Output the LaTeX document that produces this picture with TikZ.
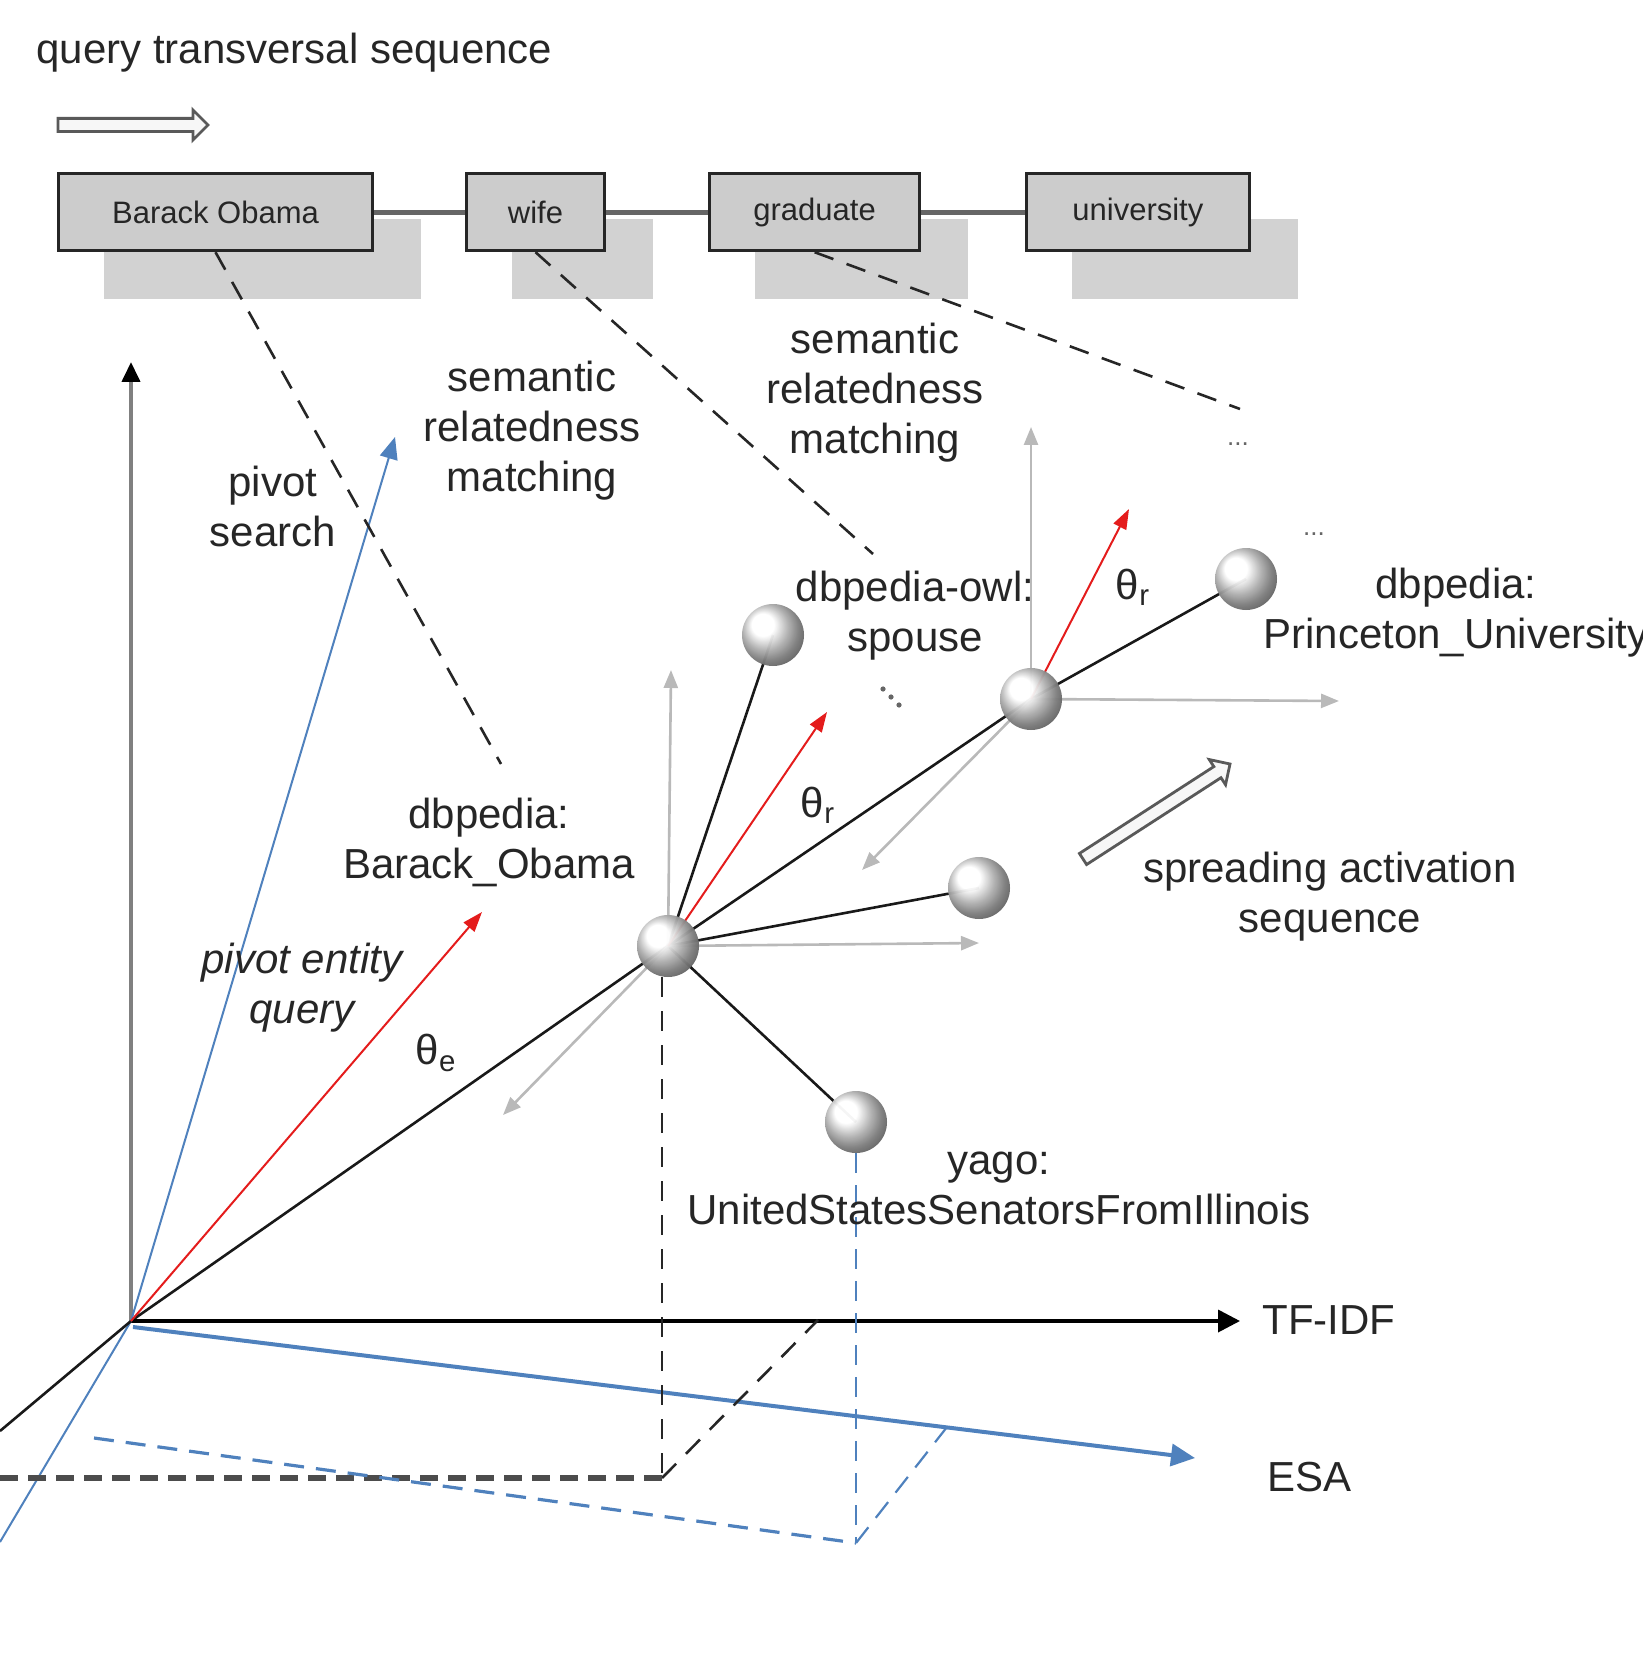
\documentclass[tikz,border=0pt]{standalone}
\usepackage{fontspec}
\setmainfont{Liberation Sans}
\usetikzlibrary{arrows.meta,calc}
\definecolor{axblue}{RGB}{79,129,189}
\definecolor{vecred}{RGB}{228,28,28}
\pgfdeclarelayer{back}
\pgfdeclarelayer{mid}
\pgfsetlayers{back,mid,main}

% hollow block arrow from #1 to #2
\newcommand\hollowarrow[3]{%
  \coordinate (ha-h) at ($(#2)!7.5pt!(#1)$);
  \filldraw[#3]
    ($(#1)!3.3pt!90:(#2)$) -- ($(ha-h)!3.3pt!90:(#2)$) -- ($(ha-h)!7.5pt!90:(#2)$)
    -- (#2) -- ($(ha-h)!7.5pt!-90:(#2)$) -- ($(ha-h)!3.3pt!-90:(#2)$)
    -- ($(#1)!3.3pt!-90:(#2)$) -- cycle;}

\begin{document}
\begin{tikzpicture}[x=0.5pt,y=-0.5pt,
  lbl/.style={font=\fontsize{21}{25}\selectfont, align=center, text=black!85, inner sep=0pt},
  qbox/.style={draw=black!85, line width=1.5pt, fill=gray!40, minimum height=38.4pt,
    inner sep=0pt, text=black!85, font=\fontsize{15.5}{18}\selectfont},
  boxshadow/.style={fill=gray!35},
  ball/.style={circle, minimum size=31pt, inner sep=0pt, shading=ball, ball color=white, opacity=0.96},
  link/.style={draw=black!90, line width=1.3pt},
  gaxis/.style={draw=gray!55, line width=1.3pt, -{Triangle[length=9pt,width=7pt]}},
  redvec/.style={draw=vecred, line width=1pt, -{Triangle[length=10pt,width=7pt]}},
  projdash/.style={draw=black!85, line width=1.3pt, dash pattern=on 10pt off 7pt},
  bluedash/.style={draw=axblue, line width=1.1pt, dash pattern=on 10pt off 6pt},
  dots/.style={font=\fontsize{13}{15}\selectfont, text=black!60, inner sep=0pt},
  hollow/.style={draw=black!65, fill=gray!6, line width=1.4pt, line join=miter}]
\useasboundingbox (0,0) rectangle (1642,1673);

% ---- query sequence at the top ----
\node[lbl, anchor=west] (title) at (36,53) {query transversal sequence};
\coordinate (qa) at (58,125);
\coordinate (qb) at (208,125);
\hollowarrow{qa}{qb}{hollow}

\node[qbox, minimum width=156.8pt] (b1) at (215.5,212.3) {Barack Obama};
\node[qbox, minimum width=69.4pt]  (b2) at (535.5,212.3) {wife};
\node[qbox, minimum width=105.1pt] (b3) at (814.6,212.3) {graduate};
\node[qbox, minimum width=111.5pt] (b4) at (1137.9,212.3) {university};

\begin{pgfonlayer}{back}
  \foreach \b in {b1,b2,b3,b4}
    \fill[boxshadow] ([shift={(47,47)}]\b.south west) rectangle ([shift={(47,47)}]\b.north east);
\end{pgfonlayer}
\draw[draw=black!60, line width=2.5pt] (b1.east) -- (b2.west);
\draw[draw=black!60, line width=2.5pt] (b2.east) -- (b3.west);
\draw[draw=black!60, line width=2.5pt] (b3.east) -- (b4.west);

% ---- coordinate system ----
\coordinate (O) at (131,1321);
\coordinate (yend) at (131,362);
\coordinate (xend) at (1240,1321);
\coordinate (esaend) at (1195,1458);
\coordinate (pivend) at (395,437);
\coordinate (qend) at (482,912);
\coordinate (llb) at (0,1431);
\coordinate (llblue) at (0,1542);

\draw[draw=gray!100, line width=2pt, -{Triangle[length=10pt,width=9pt,color=black]}] (O) -- (yend);
\draw[draw=black, line width=1.8pt, -{Triangle[length=11pt,width=11pt]}] (O) -- (xend);
\draw[draw=axblue, line width=2pt, -{Triangle[length=12pt,width=11pt]}] ([shift={(2,6)}]O) -- (esaend);
\draw[draw=axblue, line width=1pt, -{Triangle[length=11pt,width=9pt]}] (O) -- (pivend);
\draw[draw=axblue, line width=1pt] (O) -- (llblue);
\draw[link] (O) -- (llb);
\draw[redvec] (O) -- (qend);

% ---- entity spheres ----
\node[ball] (m)    at (668,946) {};
\node[ball] (s1)   at (773,635) {};
\node[ball] (s2)   at (1031,699) {};
\node[ball] (s3)   at (979,888) {};
\node[ball] (yago) at (856,1122) {};
\node[ball] (pu)   at (1246,579) {};

\coordinate (m-up) at (671,670);
\coordinate (m-right) at (979,943);
\coordinate (m-back) at (503,1115);
\coordinate (s2-up) at (1031,427);
\coordinate (s2-right) at (1339,701);
\coordinate (s2-back) at (862,870);
\coordinate (m-rel) at (827,712);
\coordinate (s2-rel) at (1129,509);

\begin{pgfonlayer}{mid}
  \draw[link] (O) -- (m.center);
  \draw[link] (m.center) -- (s1.center);
  \draw[link] (m.center) -- (s3.center);
  \draw[link] (m.center) -- (yago.center);
  \draw[link] (m.center) -- (s2.center);
  \draw[link] (s2.center) -- (pu.center);
  \draw[gaxis] (m.center) -- (m-up);
  \draw[gaxis] (m.center) -- (m-right);
  \draw[gaxis] (m.center) -- (m-back);
  \draw[gaxis] (s2.center) -- (s2-up);
  \draw[gaxis] (s2.center) -- (s2-right);
  \draw[gaxis] (s2.center) -- (s2-back);
  \draw[redvec] (m.center) -- (m-rel);
  \draw[redvec] (s2.center) -- (s2-rel);
\end{pgfonlayer}

% ---- projections onto the base plane ----
\coordinate (pd) at (662,1478);
\coordinate (pdx) at (818,1320);
\coordinate (pdl) at (0,1478);
\draw[projdash] (m.south -| pd) -- (pd);
\draw[projdash] (pd) -- (pdx);
\draw[draw=black!70, line width=2.6pt, dash pattern=on 9pt off 5pt] (pdl) -- (pd);

\coordinate (pb) at (856,1543);
\coordinate (pbx) at (947,1427);
\coordinate (pbl) at (94,1438);
\draw[bluedash] (yago.south) -- (pb);
\draw[bluedash] (pb) -- (pbx);
\draw[bluedash, line width=1.6pt] (pbl) -- (pb);

% ---- matching lines from the query terms ----
\coordinate (d1) at (501,764);
\coordinate (d2) at (873,554);
\coordinate (d3) at (1240,409);
\draw[projdash] (b1.south) -- (d1);
\draw[projdash] (b2.south) -- (d2);
\draw[projdash] (b3.south) -- (d3);

% ---- spreading activation arrow ----
\coordinate (sa) at (1083,859);
\coordinate (sb) at (1230,764);
\hollowarrow{sa}{sb}{hollow}

% further neighbours hinted by a diagonal ellipsis
\foreach \p in {(883,689),(891,697),(899,705)}
  \fill[black!60] \p circle (1.3pt);

% ---- labels ----
\node[lbl] (tpiv) at (273,506) {pivot\\search};
\node[lbl] (tsem1) at (532,431) {semantic\\relatedness\\matching};
\node[lbl] (tsem2) at (875,393) {semantic\\relatedness\\matching};
\node[dots] (dt1) at (1238,444) {...};
\node[dots] (dt2) at (1314,534) {...};
\node[lbl] (tspouse) at (915,616) {dbpedia-owl:\\spouse};
\node[lbl] (tbo) at (489,842) {dbpedia:\\Barack\_Obama};
\node[lbl] (tpu) at (1456,613) {dbpedia:\\Princeton\_University};
\node[lbl] (tyago) at (999,1188) {yago:\\UnitedStatesSenatorsFromIllinois};
\node[lbl] (tspread) at (1330,897) {spreading activation\\sequence};
\node[lbl, font=\fontsize{21}{25}\selectfont\itshape] (tpeq) at (302,988) {pivot entity\\query};
\node[lbl] (the) at (436,1053) {θ\textsubscript{e}};
\node[lbl] (thr1) at (818,805) {θ\textsubscript{r}};
\node[lbl] (thr2) at (1133,587) {θ\textsubscript{r}};
\node[lbl, anchor=west] (ttf) at (1262,1320) {TF-IDF};
\node[lbl, anchor=west] (tesa) at (1267,1477) {ESA};
\end{tikzpicture}
\end{document}
